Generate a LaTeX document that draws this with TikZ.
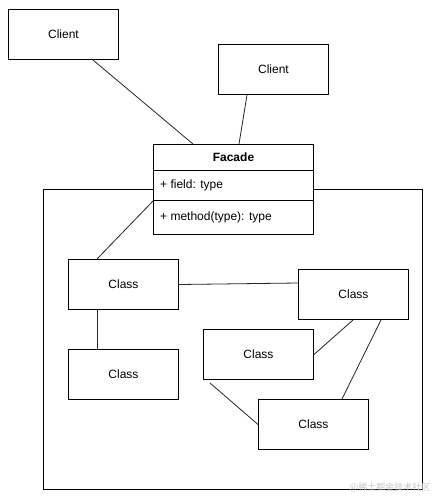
\documentclass[tikz,border=0pt]{standalone}
\usepackage{fontspec}
\setmainfont{Liberation Sans}
\newfontfamily\cjk{Noto Sans CJK SC}
\usetikzlibrary{calc}
\tikzset{
  box/.style={draw=black, line width=1pt, fill=white, rectangle, anchor=north west, inner sep=0pt,
              minimum width=110pt, minimum height=50pt, font=\fontsize{12}{14}\selectfont},
  row/.style={draw=black, line width=1pt, fill=white, rectangle, anchor=north west, inner sep=0pt,
              minimum width=160pt, font=\fontsize{12}{14}\selectfont},
  link/.style={draw=black!85, line width=0.8pt},
}
\begin{document}
\begin{tikzpicture}[x=1pt, y=-1pt]
\useasboundingbox (0,0) rectangle (434,499);
\fill[white] (0,0) rectangle (434,499);
% subsystem frame
\node[draw=black, line width=1pt, rectangle, anchor=north west, inner sep=0pt,
      minimum width=379pt, minimum height=300pt] (system) at (43,189) {};
% clients
\node[box] (client1) at (8,9) {Client};
\node[box] (client2) at (218,44) {Client};
% facade
\node[row, minimum height=26pt, font=\fontsize{12}{14}\selectfont\bfseries] (fhead) at (153,144) {Facade};
\node[row, minimum height=30pt] (ffield) at (153,170) {};
\node[anchor=west, inner sep=0pt, font=\fontsize{12}{14}\selectfont] (ffieldtxt) at ($(ffield.west)+(7,0)$) {+ field: type};
\node[row, minimum height=34pt] (fmethod) at (153,200) {};
\node[anchor=west, inner sep=0pt, font=\fontsize{12}{14}\selectfont] (fmethodtxt) at ($(fmethod.west)+(7,0)$) {+ method(type): type};
% classes
\node[box] (class1) at (68,259) {Class};
\node[box] (class2) at (298,269) {Class};
\node[box] (class3) at (68,349) {Class};
\node[box] (class4) at (203,329) {Class};
\node[box] (class5) at (258,399) {Class};
% connectors
\draw[link] ($(client1.south west)+(85,0)$) -- ($(fhead.north west)+(40,0)$);
\draw[link] ($(client2.south west)+(29,0)$) -- ($(fhead.north west)+(86,0)$);
\draw[link] (ffield.south west) -- ($(class1.north west)+(29,0)$);
\draw[link] (class1.east) -- ($(class2.north west)+(0,14)$);
\draw[link] ($(class1.south west)+(29,0)$) -- ($(class3.north west)+(29,0)$);
\draw[link] ($(class2.south west)+(55,0)$) -- (class4.east);
\draw[link] ($(class2.south west)+(83,0)$) -- ($(class5.north west)+(84,0)$);
\coordinate (c4free) at ($(class4.south west)+(7,3)$);
\draw[link] (c4free) -- (class5.west);
% watermark
\node[text=black!22, inner sep=0pt, font=\cjk\fontsize{9}{10}\selectfont] (wm) at (390,487) {@稀土掘金技术社区};
\end{tikzpicture}
\end{document}
